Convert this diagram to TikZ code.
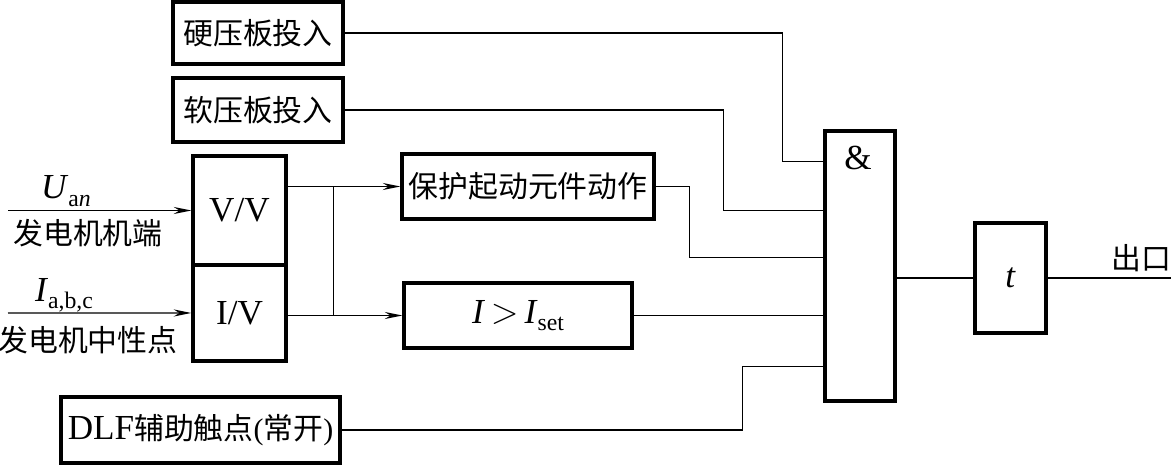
\documentclass[tikz,border=0pt]{standalone}
\usepackage{fontspec}
\setmainfont{Liberation Serif}
\newfontfamily\cjk{Noto Sans CJK SC}
\usetikzlibrary{arrows.meta,positioning,calc}
\newcommand{\sbs}[1]{\raisebox{-0.45ex}{\fontsize{13.5}{15}\selectfont #1}}
\newcommand{\lat}{\fontsize{20}{22}\selectfont}

\begin{document}
\begin{tikzpicture}[
    x=0.02cm,y=-0.02cm,
    every node/.style={font=\fontsize{17}{20}\selectfont},
    blk/.style={draw,line width=1.9pt,inner sep=0pt,align=center},
    wire/.style={line width=0.8pt},
    arr/.style={wire,-{Stealth[length=10pt,width=4pt]}}
  ]
    \useasboundingbox (0,0) rectangle (1171,465);
    \node[blk,minimum width=3.4cm,minimum height=1.24cm] (hard) at (258,33) {\cjk 硬压板投入};
    \node[blk,minimum width=3.4cm,minimum height=1.28cm] (soft) at (258,110) {\cjk 软压板投入};
    \node[blk,minimum width=1.86cm,minimum height=2.18cm] (vv) at (239.5,210.5) {\lat V/V};
    \node[blk,minimum width=1.86cm,minimum height=1.92cm,below=-1.9pt of vv] (iv) {\lat I/V};
    \node[blk,minimum width=5.04cm,minimum height=1.3cm] (start) at (528,186.5) {\cjk 保护起动元件动作};
    \node[blk,minimum width=4.56cm,minimum height=1.3cm] (iset) at (518,315.5) {\lat\textit{I}\,$>$\,\textit{I}\sbs{set}};
    \node[blk,minimum width=5.58cm,minimum height=1.32cm] (dlf) at (200.5,430) {{\lat DLF}{\cjk 辅助触点}({\cjk 常开})};
    \node[blk,minimum width=1.4cm,minimum height=5.4cm] (and) at (860,266) {};
    \node (amp) at ($(and.north)+(-2,29)$) {\lat\&};
    \node[blk,minimum width=1.42cm,minimum height=2.2cm] (delay) at (1010.5,278) {\lat\textit{t}};

    % inputs
    \coordinate (uin) at (8,210.5);
    \coordinate (iin) at (8,313);
    \draw[arr] (uin) -- (vv.west);
    \draw[arr] (iin) -- (iv.west);
    \node (ulbl) at (66,191) {\lat\textit{U}\sbs{a\textit{n}}};
    \node (uname) at (88,233) {\cjk 发电机机端};
    \node (ilbl) at (64,295) {\lat\textit{I}\sbs{a,b,c}};
    \node (iname) at (88,340) {\cjk 发电机中性点};

    % converters to detectors
    \coordinate (jv) at ($(vv.east |- start.west)+(46,0)$);
    \coordinate (ji) at ($(iv.east |- iset.west)+(46,0)$);
    \draw[arr] (vv.east |- start.west) -- (start.west);
    \draw[arr] (iv.east |- iset.west) -- (iset.west);
    \draw[wire] (jv) -- (ji);

    % AND inputs
    \path (and.north west) ++(0,32) coordinate (p1)
                           ++(0,49) coordinate (p2)
                           ++(0,47) coordinate (p3)
                           ++(0,109) coordinate (p5);
    \draw[wire] (hard.east) -- ++(438,0) |- (p1);
    \draw[wire] (soft.east) -- ++(379,0) |- (p2);
    \draw[wire] (start.east) -- ++(34,0) |- (p3);
    \draw[wire] (iset.east) -- (iset.east -| and.west);
    \draw[wire] (dlf.east) -- ++(401,0) |- (p5);

    % output
    \draw[wire] (and.east |- delay.west) -- (delay.west);
    \draw[wire] (delay.east) -- ++(125.5,0) coordinate (out);
    \node[anchor=south east,inner sep=1pt] (outlbl) at ($(out)+(0,-4)$) {\cjk 出口};
  \end{tikzpicture}
\end{document}
